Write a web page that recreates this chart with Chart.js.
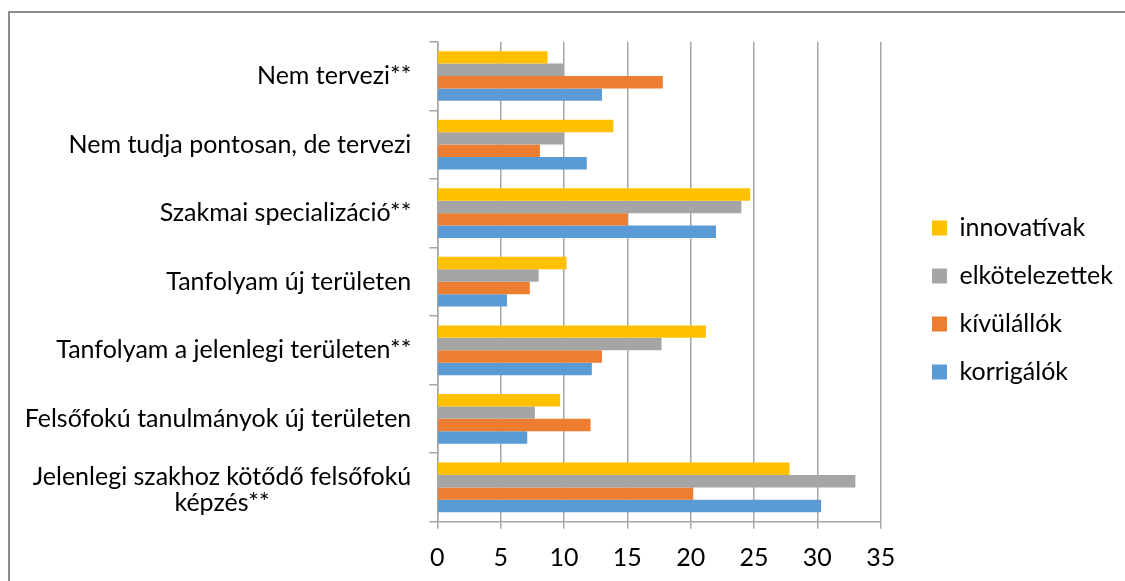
<!DOCTYPE html>
<html><head><meta charset="utf-8">
<script src="https://cdn.jsdelivr.net/npm/chart.js@4"></script>
<style>
html,body{margin:0;padding:0;background:#fff;overflow:hidden;}
#wrap{position:relative;width:1125px;height:581px;overflow:hidden;}
#frame{position:absolute;left:8px;top:11px;width:2000px;height:2000px;border:2px solid #8c8c8c;box-sizing:border-box;}
canvas{position:absolute;left:0;top:0;}
</style></head><body>
<div id="wrap"><div id="frame"></div><canvas id="c" width="1125" height="581"></canvas></div>
<script>
const categories = [
  "Nem tervezi**",
  "Nem tudja pontosan, de tervezi",
  "Szakmai specializáció**",
  "Tanfolyam új területen",
  "Tanfolyam a jelenlegi területen**",
  "Felsőfokú tanulmányok új területen",
  ["Jelenlegi szakhoz kötődő felsőfokú", "képzés**"]
];
const seriesNames = ["innovatívak", "elkötelezettek", "kívülállók", "korrigálók"];
const innovativak    = [8.7, 13.9, 24.7, 10.2, 21.2, 9.7, 27.8];
const elkotelezettek = [10.0, 10.0, 24.0, 8.0, 17.7, 7.7, 33.0];
const kivulallok     = [17.8, 8.1, 15.0, 7.3, 13.0, 12.1, 20.2];
const korrigalok     = [13.0, 11.8, 22.0, 5.5, 12.2, 7.1, 30.3];
const xMin = 0, xMax = 35, xStep = 5;
const colors = ["#FFC000", "#A5A5A5", "#ED7D31", "#5B9BD5"];

const FONT = "Lato";
const GRID = "#a6a6a6";

const yLabelPlugin = {
  id: "yLabels",
  afterDraw(chart) {
    const ys = chart.scales.y;
    const ctx = chart.ctx;
    ctx.save();
    ctx.font = "25px " + FONT;
    ctx.fillStyle = "#000";
    ctx.textBaseline = "middle";
    ctx.textAlign = "center";
    const right = ys.right - 8 - 18;
    categories.forEach((lab, i) => {
      const y = ys.getPixelForTick(i);
      const lines = Array.isArray(lab) ? lab : [lab];
      const lh = 26;
      const maxW = Math.max(...lines.map(l => ctx.measureText(l).width));
      lines.forEach((l, k) => {
        const ly = y + (k - (lines.length - 1) / 2) * lh + (lines.length > 1 ? 3 : 0);
        ctx.fillText(l, right - maxW / 2, ly);
      });
    });
    ctx.restore();
  }
};

const legendShift = {
  id: "legendShift",
  afterLayout(chart) {
    const l = chart.legend;
    const dx = 932 - 23 - l.left;
    l.left += dx; l.right += dx;
    const dy = -11.35;
    l.top += dy; l.bottom += dy;
  }
};

new Chart(document.getElementById("c"), {
  type: "bar",
  data: {
    labels: categories,
    datasets: [
      { label: seriesNames[0], data: innovativak, backgroundColor: colors[0] },
      { label: seriesNames[1], data: elkotelezettek, backgroundColor: colors[1] },
      { label: seriesNames[2], data: kivulallok, backgroundColor: colors[2] },
      { label: seriesNames[3], data: korrigalok, backgroundColor: colors[3] }
    ]
  },
  options: {
    indexAxis: "y",
    responsive: false,
    animation: false,
    layout: { padding: { top: 41.7, bottom: 0, left: 0, right: 0 } },
    datasets: { bar: { categoryPercentage: 0.725, barPercentage: 1, borderWidth: 0 } },
    plugins: {
      legend: {
        position: "right",
        labels: { font: { family: FONT, size: 25 }, color: "#000", boxWidth: 15, boxHeight: 15, padding: 23 }
      },
      tooltip: { enabled: false }
    },
    scales: {
      x: {
        min: xMin, max: xMax,
        ticks: { stepSize: xStep, font: { family: FONT, size: 25 }, color: "#000", padding: 14 },
        grid: { color: GRID, lineWidth: 1.5, tickLength: 7 },
        border: { color: GRID, width: 1.5 },
        afterFit(s) { s.height = 581 - 521.7; s.paddingRight = 1125 - 880.7; }
      },
      y: {
        ticks: { display: false },
        grid: { drawOnChartArea: false, offset: true, tickLength: 8, color: GRID, lineWidth: 1.5 },
        border: { color: GRID, width: 1.5 },
        afterFit(s) { s.width = 437.3; }
      }
    }
  },
  plugins: [yLabelPlugin, legendShift]
});
</script>
</body></html>
